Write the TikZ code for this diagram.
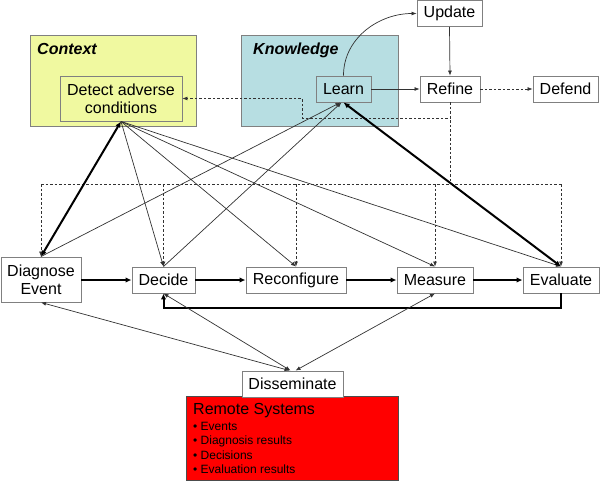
\documentclass[tikz,border=0pt]{standalone}
\usepackage{fontspec}
\setmainfont{Liberation Sans}
\usetikzlibrary{arrows.meta}
\definecolor{ctxcol}{RGB}{240,249,160}
\definecolor{kncol}{RGB}{183,222,226}
\definecolor{bordercol}{RGB}{128,128,128}
\definecolor{linecol}{RGB}{50,50,50}
\definecolor{remcol}{RGB}{255,0,0}
\tikzset{
  box/.style={draw=bordercol, line width=0.9pt, fill=white, font=\fontsize{16}{18}\selectfont, inner sep=0pt, align=center, minimum height=26pt},
  area/.style={draw=bordercol, line width=0.9pt, inner sep=0pt},
  conn/.style={draw=linecol, line width=0.7pt, -{Latex[length=5pt,width=4pt]}},
  dconn/.style={draw=linecol, line width=0.7pt, {Latex[length=5pt,width=4pt]}-{Latex[length=5pt,width=4pt]}},
  thk/.style={draw=black, line width=2pt, -{Latex[length=6pt,width=5.5pt]}},
  dthk/.style={draw=black, line width=2pt, {Latex[length=6pt,width=5.5pt]}-{Latex[length=6pt,width=5.5pt]}},
  dsh/.style={draw=linecol, line width=0.7pt, dash pattern=on 2.5pt off 2pt},
  dsharr/.style={dsh, -{Latex[length=5pt,width=4pt]}},
  lbl/.style={font=\fontsize{16}{18}\selectfont\bfseries\itshape, inner sep=0pt, anchor=base west},
  bul/.style={font=\fontsize{12}{14}\selectfont, inner sep=0pt, anchor=base west}
}
\begin{document}
\begin{tikzpicture}[x=1pt,y=-1pt]
\useasboundingbox (0,0) rectangle (600,480);
% areas
\node[area, fill=ctxcol, minimum width=166pt, minimum height=91pt] (ctx) at (113,80.5) {};
\node[lbl] (ctxl) at (37,54) {Context};
\node[area, fill=kncol, minimum width=157pt, minimum height=91pt] (kn) at (319.5,80.5) {};
\node[lbl] (knl) at (253,54) {Knowledge};
% boxes
\node[box, fill=ctxcol, minimum width=122pt, minimum height=45pt] (detect) at (121,98.5) {Detect adverse\\conditions};
\node[box, fill=kncol, minimum width=55pt] (learn) at (343.5,89) {Learn};
\node[box, minimum width=65pt] (update) at (449.5,13.5) {Update};
\node[box, minimum width=60pt] (refine) at (450,89) {Refine};
\node[box, minimum width=65pt] (defend) at (565.5,89) {Defend};
\node[box, minimum width=80pt, minimum height=45pt] (diag) at (41,279.5) {Diagnose\\Event};
\node[box, minimum width=63pt] (decide) at (163.5,280) {Decide};
\node[box, minimum width=100pt] (recon) at (296,280) {Reconfigure};
\node[box, minimum width=76pt] (measure) at (435,280) {Measure};
\node[box, minimum width=76pt] (eval) at (561,280) {Evaluate};
\node[draw=black!70, line width=0.9pt, fill=remcol, inner sep=0pt, minimum width=212pt, minimum height=84pt] (remote) at (292,438) {};
\node[box, minimum width=101pt] (diss) at (292.5,384) {Disseminate};
\node[font=\fontsize{16}{18}\selectfont, inner sep=0pt, anchor=base west] (remt) at (193,414) {Remote Systems};
\node[bul] (b1) at (193,430) {• Events};
\node[bul] (b2) at (193,444.5) {• Diagnosis results};
\node[bul] (b3) at (193,459) {• Decisions};
\node[bul] (b4) at (193,473.5) {• Evaluation results};
% coordinates
\coordinate (bus) at (0,184);
\coordinate (k1) at (302,118);
\coordinate (loopy) at (0,308);
% dashed bus
\draw[dsh] (refine.south) -- (refine.south |- bus);
\draw[dsh] (diag.north |- bus) -- (eval.north |- bus);
\foreach \n in {diag,decide,recon,measure,eval}
  \draw[dsharr] (\n.north |- bus) -- (\n.north);
\draw[dsharr] (refine.south) |- (k1) |- (detect.east);
\draw[dsharr] (refine.east) -- (defend.west);
% thin lines from detect
\foreach \n in {decide,recon,measure,eval}
  \draw[conn] (detect.south) -- (\n.north);
% to learn
\draw[conn] (diag.north) -- ([xshift=-3pt]learn.south);
\draw[conn] (decide.north) -- ([xshift=-2pt]learn.south);
\draw[dthk] (eval.north) -- (learn.south);
\draw[dthk] (detect.south) -- (diag.north);
% top
\draw[conn] (learn.east) -- (refine.west);
\draw[conn] (update.south) -- (refine.north);
\draw[conn] (learn.north) to[out=90,in=180] (update.west);
% main flow
\draw[thk] (diag.east |- decide.west) -- (decide.west);
\draw[thk] (decide.east) -- (recon.west);
\draw[thk] (recon.east) -- (measure.west);
\draw[thk] (measure.east) -- (eval.west);
\draw[thk] (eval.south) -- (eval.south |- loopy) -| (decide.south);
% disseminate
\draw[dconn] ([xshift=-3pt]diss.north) -- (diag.south);
\draw[dconn] ([xshift=-2pt]diss.north) -- (decide.south);
\draw[dconn] ([xshift=3pt]diss.north) -- (measure.south);
\end{tikzpicture}
\end{document}
